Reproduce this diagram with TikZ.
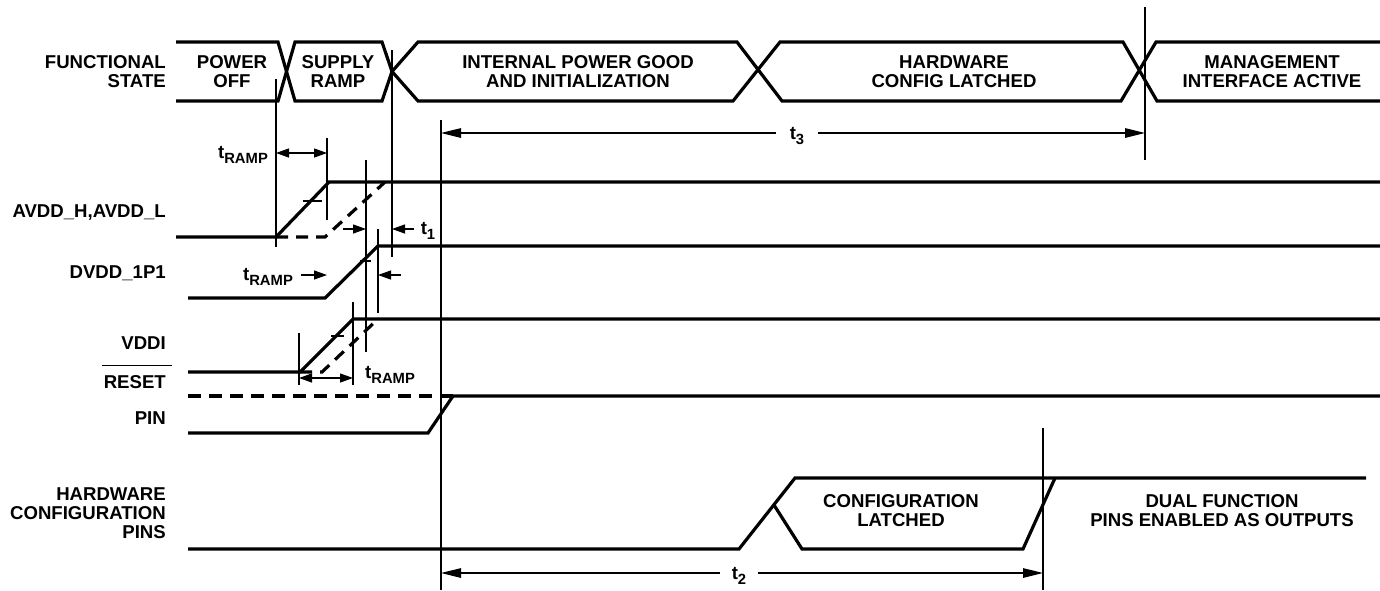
\documentclass[tikz,border=0pt]{standalone}
\usepackage{fontspec}
\setmainfont{Liberation Sans}
\usetikzlibrary{arrows.meta}
\newcommand\tlab[1]{t\raisebox{-5pt}{\fontsize{14.8}{15}\selectfont #1}}
\begin{document}
\begin{tikzpicture}[x=1pt,y=-1pt,
  sig/.style={line width=3.2pt},
  dsig/.style={line width=3.2pt, dash pattern=on 12pt off 8pt},
  thinln/.style={line width=1.3pt},
  bigarr/.style={thinln,-{Triangle[length=20pt,width=9.5pt]}},
  smarr/.style={thinln,-{Triangle[length=13pt,width=9pt]}},
  dblarr/.style={thinln,{Triangle[length=13pt,width=9pt]}-{Triangle[length=13pt,width=9pt]}},
  lbl/.style={font=\bfseries\fontsize{18.6}{19}\selectfont, inner sep=0pt, text depth=0pt},
  side/.style={lbl, align=right, anchor=east},
  inbox/.style={lbl, align=center},
]
\useasboundingbox (0,0) rectangle (1380,590);

% ---------- left labels ----------
\node[side] (lfs)   at (166,71.5) {FUNCTIONAL\\STATE};
\node[side] (lavdd) at (166,211)  {AVDD\_H,AVDD\_L};
\node[side] (ldvdd) at (166,272)  {DVDD\_1P1};
\node[side] (lvddi) at (166,343)  {VDDI};
\node[side] (lreset) at (166,382) {RESET};
\draw[line width=1.6pt] ([xshift=-2pt,yshift=10pt]lreset.north west) -- ([xshift=6pt,yshift=10pt]lreset.north east);
\node[side] (lpin)  at (166,418)  {PIN};
\node[side] (lhw)   at (166,513)  {HARDWARE\\CONFIGURATION\\PINS};

% ---------- functional state bus ----------
\draw[sig] (176,42) -- (278,42) -- (295,101) -- (382,101) -- (392,71.5);
\draw[sig] (176,101) -- (278,101) -- (295,42) -- (382,42) -- (392,71.5);
\draw[sig] (392,71.5) -- (418,42) -- (737,42) -- (782,101) -- (1121,101) -- (1156,42) -- (1380,42);
\draw[sig] (392,71.5) -- (418,101) -- (733,101) -- (780,42) -- (1123,42) -- (1157,101) -- (1380,101);

\node[inbox] (spo)  at (232,71.5) {POWER\\OFF};
\node[inbox] (ssr)  at (338,71.5) {SUPPLY\\RAMP};
\node[inbox] (sipg) at (578,71.5) {INTERNAL POWER GOOD\\AND INITIALIZATION};
\node[inbox] (shcl) at (954,71.5) {HARDWARE\\CONFIG LATCHED};
\node[inbox] (smia) at (1272,71.5) {MANAGEMENT\\INTERFACE ACTIVE};

% ---------- vertical marker lines ----------
\coordinate (v276a) at (276,79);   \coordinate (v276b) at (276,247);
\coordinate (v327a) at (327,138);  \coordinate (v327b) at (327,220);
\coordinate (v366a) at (366,160);  \coordinate (v366b) at (366,352);
\coordinate (v378a) at (378,229);  \coordinate (v378b) at (378,313);
\coordinate (v392a) at (392,50);   \coordinate (v392b) at (392,257);
\coordinate (v441a) at (441,120);  \coordinate (v441b) at (441,590);
\coordinate (v1145a) at (1145,7);  \coordinate (v1145b) at (1145,160);
\coordinate (v1043a) at (1043,428);\coordinate (v1043b) at (1043,590);
\coordinate (v299a) at (299,333);  \coordinate (v299b) at (299,385);
\coordinate (v353a) at (353,302);  \coordinate (v353b) at (353,385);
\foreach \n in {276,327,366,378,392,441,1145,1043,299,353}
  \draw[thinln] (v\n a) -- (v\n b);

% ---------- supplies ----------
\draw[sig] (176,237) -- (276,237) -- (329,182) -- (1380,182);
\draw[dsig] (276,237) -- (325,237) -- (385,182);
\draw[sig] (188,298) -- (325,298) -- (378,246) -- (1380,246);
\draw[sig] (188,372) -- (300,372) -- (353,319) -- (1380,319);
\draw[dsig] (300,372) -- (322,372) -- (378,319);

% threshold ticks
\draw[thinln] (303,201) -- (322,201);
\draw[thinln] (360,261) -- (371,261);
\draw[thinln] (331,336) -- (344,336);

% ---------- reset pin ----------
\draw[line width=3.2pt, dash pattern=on 13pt off 8pt] (188,396) -- (453,396);
\draw[sig] (188,433) -- (428,433) -- (453,396) -- (1380,396);

% ---------- hardware configuration pins ----------
\draw[sig] (188,549) -- (739,549) -- (795,478) -- (1366,478);
\draw[sig] (774,505) -- (802,549) -- (1023,549) -- (1055,478);
\node[inbox] (scl)  at (901,510.5) {CONFIGURATION\\LATCHED};
\node[inbox] (sdf)  at (1222,510.5) {DUAL FUNCTION\\PINS ENABLED AS OUTPUTS};

% ---------- timing annotations ----------
\node[lbl] (tr1) at (243,152) {\tlab{RAMP}};
\draw[dblarr] (276,153) -- (327,153);

\node[lbl] (tr2) at (268,274) {\tlab{RAMP}};
\draw[smarr] ([xshift=8pt]tr2.east |- 0,275) -- (327,275);
\coordinate (tr2r) at (401,275);
\draw[smarr] (tr2r) -- (378,275);

\node[lbl, inner xsep=7pt] (t1) at (428,228) {\tlab{1}};
\draw[smarr] (t1.west |- 0,229) -- (392,229);
\coordinate (t1l) at (343,229);
\draw[smarr] (t1l) -- (366,229);

\node[lbl] (tr3) at (390,372) {\tlab{RAMP}};
\draw[dblarr] (299,378) -- (353,378);

\node[lbl, inner xsep=14pt] (t3) at (797,133) {\tlab{3}};
\draw[bigarr] (t3.west) -- (t3.west -| v441a);
\draw[bigarr] (t3.east) -- (t3.east -| v1145a);

\node[lbl, inner xsep=12pt] (t2) at (739,573) {\tlab{2}};
\draw[bigarr] (t2.west) -- (t2.west -| v441a);
\draw[bigarr] (t2.east) -- (t2.east -| v1043a);
\end{tikzpicture}
\end{document}
